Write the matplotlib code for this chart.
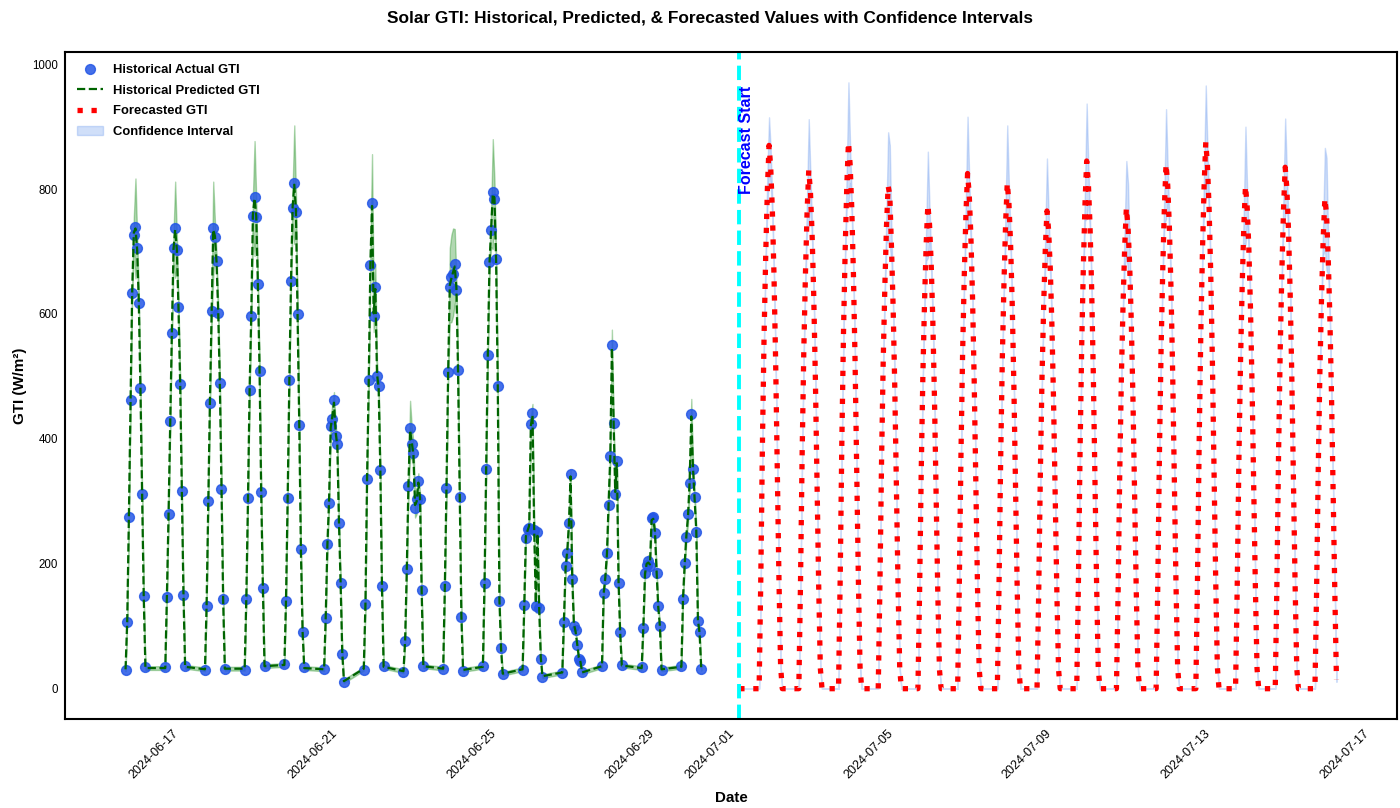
import numpy as np
import pandas as pd
import matplotlib
matplotlib.use("Agg")
import matplotlib.pyplot as plt
import matplotlib.dates as mdates
import matplotlib.transforms as mtransforms

plt.rcParams['font.family'] = ['Liberation Sans', 'DejaVu Sans']

# historical data: one list per day, hourly values 00:00-12:00 UTC
hist_days = pd.date_range('2024-06-16', '2024-06-30', freq='D')
day_hours = list(range(13))

hist_actual = [
    [30, 106, 275, 462, 634, 727, 739, 706, 618, 481, 311, 148, 34],
    [34, 147, 279, 428, 570, 706, 738, 702, 611, 488, 317, 150, 36],
    [30, 133, 300, 458, 604, 738, 723, 685, 602, 489, 319, 143, 31],
    [30, 144, 305, 479, 597, 757, 788, 755, 648, 508, 315, 161, 37],
    [40, 141, 305, 494, 653, 770, 810, 764, 600, 422, 223, 90, 34],
    [32, 113, 232, 297, 420, 432, 463, 405, 392, 265, 170, 55, 10],
    [30, 136, 336, 494, 678, 777, 597, 643, 500, 485, 350, 165, 36],
    [26, 76, 191, 325, 418, 392, 378, 290, 303, 333, 304, 158, 37],
    [31, 164, 321, 507, 643, 660, 664, 680, 639, 511, 307, 115, 29],
    [36, 169, 351, 535, 684, 734, 796, 784, 688, 485, 140, 65, 23],
    [30, 134, 242, 255, 258, 424, 442, 254, 133, 251, 130, 48, 19],
    [25, 107, 196, 218, 266, 344, 175, 101, 94, 70, 48, 45, 27],
    [37, 154, 175, 218, 294, 372, 551, 425, 312, 365, 170, 90, 38],
    [34, 97, 186, 198, 204, 197, 273, 275, 250, 186, 133, 100, 30],
    [36, 144, 202, 243, 279, 330, 440, 351, 307, 251, 108, 91, 31],
]

hist_pred = [
    [31, 108, 272, 460, 636, 730, 737, 703, 620, 479, 313, 146, 33],
    [33, 149, 281, 426, 572, 704, 735, 704, 609, 490, 315, 151, 35],
    [31, 135, 298, 460, 602, 735, 725, 683, 604, 487, 321, 141, 32],
    [32, 146, 303, 481, 599, 760, 785, 757, 646, 510, 313, 163, 36],
    [38, 143, 307, 492, 650, 772, 807, 766, 598, 424, 221, 92, 33],
    [31, 115, 230, 299, 418, 436, 458, 410, 390, 267, 168, 57, 12],
    [32, 134, 338, 492, 681, 773, 601, 640, 504, 482, 352, 163, 35],
    [28, 78, 189, 327, 414, 395, 375, 294, 300, 330, 306, 156, 36],
    [32, 162, 323, 505, 646, 657, 667, 676, 642, 508, 309, 117, 30],
    [35, 171, 349, 537, 681, 737, 792, 786, 685, 488, 143, 63, 24],
    [31, 132, 244, 253, 261, 421, 438, 258, 137, 248, 132, 50, 20],
    [26, 109, 194, 220, 263, 340, 179, 104, 92, 72, 50, 43, 26],
    [36, 152, 178, 216, 297, 370, 546, 428, 315, 361, 173, 88, 37],
    [33, 99, 184, 200, 202, 199, 270, 272, 252, 188, 131, 101, 31],
    [35, 146, 200, 245, 276, 333, 436, 354, 304, 253, 110, 89, 32],
]

# half width of the historical confidence band
hist_ci = [
    [3, 5, 8, 10, 12, 25, 80, 25, 12, 10, 8, 5, 3],
    [3, 5, 8, 10, 12, 25, 77, 25, 12, 10, 8, 5, 3],
    [3, 5, 8, 10, 25, 77, 25, 14, 12, 10, 8, 5, 3],
    [3, 5, 8, 10, 12, 30, 92, 30, 12, 10, 8, 5, 3],
    [3, 5, 8, 10, 12, 30, 95, 30, 12, 10, 8, 5, 3],
    [3, 5, 8, 10, 15, 20, 17, 12, 10, 8, 6, 4, 3],
    [3, 5, 8, 10, 25, 83, 30, 40, 20, 10, 8, 5, 3],
    [3, 5, 8, 10, 47, 25, 20, 20, 20, 15, 8, 5, 3],
    [3, 5, 8, 10, 60, 70, 70, 60, 15, 10, 8, 5, 3],
    [3, 5, 8, 10, 12, 30, 88, 30, 12, 10, 8, 5, 3],
    [3, 5, 8, 10, 12, 15, 18, 20, 15, 10, 8, 5, 3],
    [3, 5, 8, 10, 10, 10, 8, 6, 5, 4, 4, 3, 3],
    [3, 5, 8, 10, 12, 15, 29, 15, 12, 10, 8, 5, 3],
    [3, 5, 8, 10, 12, 12, 10, 10, 8, 6, 5, 4, 3],
    [3, 5, 8, 10, 12, 15, 28, 15, 12, 10, 8, 5, 3],
]

# forecast: hourly from fc_start to fc_end, zero at night
fc_start = pd.Timestamp('2024-07-01 11:00')
fc_end = pd.Timestamp('2024-07-16 12:00')
fc_days = pd.date_range('2024-07-02', '2024-07-16', freq='D')

fc_values = [
    [174, 392, 566, 696, 800, 870, 835, 766, 661, 522, 348, 174, 35],
    [166, 374, 540, 664, 764, 830, 797, 730, 631, 498, 332, 166, 33],
    [175, 394, 569, 700, 805, 875, 840, 770, 665, 525, 350, 175, 35],
    [161, 362, 523, 644, 741, 805, 790, 708, 612, 483, 322, 161, 32],
    [155, 349, 504, 620, 713, 775, 744, 682, 589, 465, 310, 155, 31],
    [165, 371, 536, 660, 759, 825, 792, 726, 627, 495, 330, 165, 33],
    [162, 365, 527, 648, 745, 810, 778, 713, 616, 486, 324, 162, 32],
    [153, 344, 497, 612, 704, 765, 734, 673, 581, 459, 306, 153, 31],
    [169, 380, 549, 676, 777, 845, 811, 744, 642, 507, 338, 169, 34],
    [154, 347, 501, 616, 708, 770, 739, 678, 585, 462, 308, 154, 31],
    [168, 378, 546, 672, 773, 840, 806, 739, 638, 504, 336, 168, 34],
    [175, 394, 569, 700, 805, 875, 840, 770, 665, 525, 350, 175, 35],
    [161, 362, 523, 644, 741, 805, 773, 708, 612, 483, 322, 161, 32],
    [167, 376, 543, 668, 768, 835, 802, 735, 635, 501, 334, 167, 33],
    [157, 353, 510, 628, 722, 785, 760, 691, 597, 471, 314, 157, 14],
]

fc_ci = [
    [3, 6, 10, 14, 28, 45, 28, 14, 10, 8, 6, 4, 3],
    [3, 6, 10, 14, 28, 82, 28, 14, 10, 8, 6, 4, 3],
    [3, 6, 10, 14, 30, 96, 30, 14, 10, 8, 6, 4, 3],
    [3, 6, 10, 14, 28, 86, 80, 28, 10, 8, 6, 4, 3],
    [3, 6, 10, 14, 28, 85, 28, 14, 10, 8, 6, 4, 3],
    [3, 6, 10, 14, 28, 91, 28, 14, 10, 8, 6, 4, 3],
    [3, 6, 10, 14, 28, 92, 28, 14, 10, 8, 6, 4, 3],
    [3, 6, 10, 14, 28, 84, 28, 14, 10, 8, 6, 4, 3],
    [3, 6, 10, 14, 28, 92, 28, 14, 10, 8, 6, 4, 3],
    [3, 6, 10, 14, 35, 75, 70, 28, 10, 8, 6, 4, 3],
    [3, 6, 10, 14, 28, 88, 28, 14, 10, 8, 6, 4, 3],
    [3, 6, 10, 14, 28, 91, 28, 14, 10, 8, 6, 4, 3],
    [3, 6, 10, 14, 28, 95, 28, 14, 10, 8, 6, 4, 3],
    [3, 6, 10, 14, 28, 78, 28, 14, 10, 8, 6, 4, 3],
    [3, 6, 10, 14, 28, 81, 90, 28, 10, 8, 6, 4, 3],
]

# build time series
hist_time = [d + pd.Timedelta(hours=h) for d in hist_days for h in day_hours]
actual = np.concatenate(hist_actual)
pred = np.concatenate(hist_pred)
pred_ci = np.concatenate(hist_ci)

fc_index = pd.date_range(fc_start, fc_end, freq='h')
fc = pd.Series(0.0, index=fc_index)
fc_half = pd.Series(0.0, index=fc_index)
for d, vals, ci in zip(fc_days, fc_values, fc_ci):
    idx = [d + pd.Timedelta(hours=h) for h in day_hours]
    fc.loc[idx] = vals
    fc_half.loc[idx] = ci

fig = plt.figure(figsize=(14, 8.08), dpi=100)
ax = fig.add_axes([65 / 1400, 1 - 719 / 808, 1332 / 1400, 667 / 808])

ax.fill_between(hist_time, pred - pred_ci, pred + pred_ci, color='green', alpha=0.3)
ax.scatter(hist_time, actual, color='#2457e6', s=50, alpha=0.85, label='Historical Actual GTI', zorder=3)
ax.plot(hist_time, pred, '--', color='darkgreen', lw=1.6, label='Historical Predicted GTI', zorder=4)
ax.fill_between(fc.index, (fc - fc_half).clip(lower=0), fc + fc_half, color='cornflowerblue',
                alpha=0.3, label='Confidence Interval', zorder=1)
ax.plot(fc.index, fc, ':', color='red', lw=3.8, label='Forecasted GTI', zorder=2)

ax.axvline(fc_start, color='cyan', linestyle='--', lw=2.8)
ax.text(fc_start, 965, 'Forecast Start', rotation=90, color='blue', fontweight='bold',
        fontsize=11.5, va='top', ha='left')

ax.xaxis.set_major_locator(mdates.DayLocator(bymonthday=[1, 5, 9, 13, 17, 21, 25, 29]))
ax.xaxis.set_major_formatter(mdates.DateFormatter('%Y-%m-%d'))
ax.tick_params(axis='x', length=0, labelsize=9, pad=6)
ax.tick_params(axis='y', length=0, labelsize=8.3, pad=5)
shift = mtransforms.ScaledTranslation(5 / 72, 0, fig.dpi_scale_trans)
for lab in ax.get_xticklabels():
    lab.set_rotation(45)
    lab.set_ha('right')
    lab.set_rotation_mode('anchor')
    lab.set_transform(lab.get_transform() + shift)

for s in ax.spines.values():
    s.set_linewidth(1.5)
    s.set_color('black')

ax.set_xlabel('Date', fontweight='bold', fontsize=10.9, labelpad=7)
ax.set_ylabel('GTI (W/m²)', fontweight='bold', fontsize=10.9)

handles, labels = ax.get_legend_handles_labels()
order = [labels.index(l) for l in ['Historical Actual GTI', 'Historical Predicted GTI',
                                   'Forecasted GTI', 'Confidence Interval']]
ax.legend([handles[i] for i in order], [labels[i] for i in order], loc='upper left',
          frameon=False, labelspacing=0.65, prop={'weight': 'bold', 'size': 9.4})

fig.text(0.507, 1 - 18 / 808, 'Solar GTI: Historical, Predicted, & Forecasted Values with Confidence Intervals',
         ha='center', va='center', fontsize=12.4, fontweight='bold')

fig.savefig('out.png', dpi=100)
